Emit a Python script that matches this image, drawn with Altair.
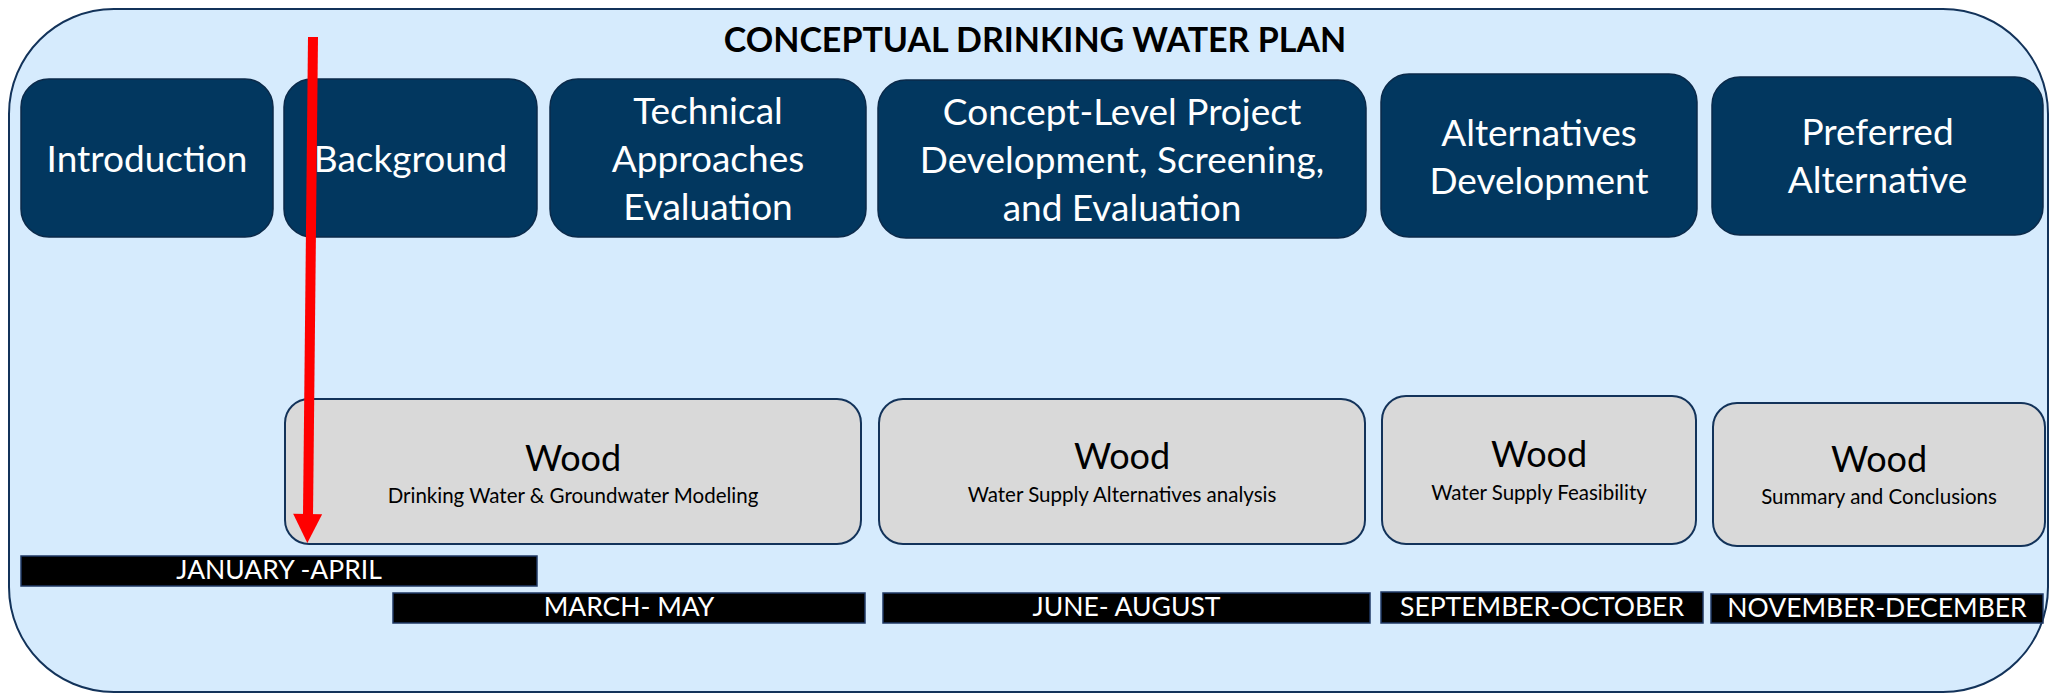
import altair as alt
import pandas as pd

# ---------------- data (diagram layout) ----------------
TITLE = "CONCEPTUAL DRINKING WATER PLAN"
title_x = [1035]
title_y = [42]

frame_x0 = [9]
frame_x1 = [2048]
frame_y0 = [9]
frame_y1 = [692]

phase_labels = [
    "Introduction",
    "Background",
    "Technical\nApproaches\nEvaluation",
    "Concept-Level Project\nDevelopment, Screening,\nand Evaluation",
    "Alternatives\nDevelopment",
    "Preferred\nAlternative",
]
phase_x0 = [21, 284, 550, 878, 1381, 1712]
phase_x1 = [273, 537, 866, 1366, 1697, 2043]
phase_y0 = [79, 79, 79, 80, 74, 77]
phase_y1 = [237, 237, 237, 238, 237, 235]
phase_text_y = [161, 161, 161, 162, 159, 158]   # centre of the text block

task_owner = ["Wood", "Wood", "Wood", "Wood"]
task_desc = [
    "Drinking Water & Groundwater Modeling",
    "Water Supply Alternatives analysis",
    "Water Supply Feasibility",
    "Summary and Conclusions",
]
task_x0 = [285, 879, 1382, 1713]
task_x1 = [861, 1365, 1696, 2045]
task_y0 = [399, 399, 396, 403]
task_y1 = [544, 544, 544, 546]
owner_y = [460, 458, 456, 461]
desc_y = [497, 496, 494, 498]

period_labels = ["JANUARY -APRIL", "MARCH- MAY", "JUNE- AUGUST",
                 "SEPTEMBER-OCTOBER", "NOVEMBER-DECEMBER"]
period_x0 = [21, 393, 883, 1381, 1711]
period_x1 = [537, 865, 1370, 1703, 2043]
period_y0 = [556, 593, 593, 592, 594]
period_y1 = [586, 623, 623, 623, 623]

arrow_x = [313]
arrow_x2 = [308]
arrow_y = [37]
arrow_y2 = [516]
head_x = [307.5]
head_y = [528.5]

# ---------------- styles ----------------
FONT = "Lato"
NAVY = "#02375F"
EDGE = "#13335A"
LIGHT = "#D6EBFD"
GREY = "#D9D9D9"
LINE_H = 48

XS = alt.Scale(domain=[8, 2049], nice=False, zero=False)
YS = alt.Scale(domain=[8, 694], nice=False, zero=False, reverse=True)


def X(f):
    return alt.X(f, type="quantitative", scale=XS, axis=None)


def Y(f):
    return alt.Y(f, type="quantitative", scale=YS, axis=None)


frame_df = pd.DataFrame({"x0": frame_x0, "x1": frame_x1, "y0": frame_y0, "y1": frame_y1})
phase_df = pd.DataFrame({"label": phase_labels, "x0": phase_x0, "x1": phase_x1,
                         "y0": phase_y0, "y1": phase_y1, "ty": phase_text_y})
phase_df["cx"] = (phase_df.x0 + phase_df.x1) / 2
phase_df["nl"] = phase_df.label.str.count("\n") + 1
phase_df["ty1"] = phase_df.ty - (phase_df.nl - 1) * LINE_H / 2
task_df = pd.DataFrame({"owner": task_owner, "desc": task_desc, "x0": task_x0, "x1": task_x1,
                        "y0": task_y0, "y1": task_y1, "oy": owner_y, "dy": desc_y})
task_df["cx"] = (task_df.x0 + task_df.x1) / 2
period_df = pd.DataFrame({"label": period_labels, "x0": period_x0, "x1": period_x1,
                          "y0": period_y0, "y1": period_y1})
period_df["cx"] = (period_df.x0 + period_df.x1) / 2
period_df["cy"] = (period_df.y0 + period_df.y1) / 2
title_df = pd.DataFrame({"t": [TITLE], "x": title_x, "y": title_y})
arrow_df = pd.DataFrame({"x": arrow_x, "x2": arrow_x2, "y": arrow_y, "y2": arrow_y2})
head_df = pd.DataFrame({"x": head_x, "y": head_y})

frame = alt.Chart(frame_df).mark_rect(
    fill=LIGHT, stroke=EDGE, strokeWidth=2, cornerRadius=105
).encode(x=X("x0"), x2=alt.X2("x1"), y=Y("y0"), y2=alt.Y2("y1"))

title = alt.Chart(title_df).mark_text(
    font=FONT, fontSize=34, fontWeight="bold", color="#000000", baseline="middle", align="center"
).encode(x=X("x"), y=Y("y"), text="t:N")

phases = alt.Chart(phase_df).mark_rect(
    fill=NAVY, stroke="#0B2A4A", strokeWidth=1.5, cornerRadius=28
).encode(x=X("x0"), x2=alt.X2("x1"), y=Y("y0"), y2=alt.Y2("y1"))

phase_text = alt.Chart(phase_df).mark_text(
    font=FONT, fontSize=37, color="#FFFFFF", baseline="middle", align="center",
    lineBreak="\n", lineHeight=LINE_H
).encode(x=X("cx"), y=Y("ty1"), text="label:N")

tasks = alt.Chart(task_df).mark_rect(
    fill=GREY, stroke=EDGE, strokeWidth=2, cornerRadius=24
).encode(x=X("x0"), x2=alt.X2("x1"), y=Y("y0"), y2=alt.Y2("y1"))

owner_text = alt.Chart(task_df).mark_text(
    font=FONT, fontSize=36, color="#000000", baseline="middle", align="center"
).encode(x=X("cx"), y=Y("oy"), text="owner:N")

desc_text = alt.Chart(task_df).mark_text(
    font=FONT, fontSize=20.5, color="#000000", baseline="middle", align="center"
).encode(x=X("cx"), y=Y("dy"), text="desc:N")

periods = alt.Chart(period_df).mark_rect(
    fill="#000000", stroke="#1F3864", strokeWidth=1.5
).encode(x=X("x0"), x2=alt.X2("x1"), y=Y("y0"), y2=alt.Y2("y1"))

period_text = alt.Chart(period_df).mark_text(
    font=FONT, fontSize=26.5, color="#FFFFFF", baseline="middle", align="center"
).encode(x=X("cx"), y=Y("cy"), text="label:N")

arrow = alt.Chart(arrow_df).mark_rule(
    color="#FF0000", strokeWidth=10, strokeCap="butt"
).encode(x=X("x"), x2=alt.X2("x2"), y=Y("y"), y2=alt.Y2("y2"))

head = alt.Chart(head_df).mark_point(
    shape="M -1 -1 L 1 -1 L 0 1 Z", size=841, filled=True, fill="#FF0000",
    stroke="#FF0000", strokeWidth=0, opacity=1, angle=0.6
).encode(x=X("x"), y=Y("y"))

chart = alt.layer(
    frame, title, phases, phase_text, tasks, owner_text, desc_text,
    periods, period_text, arrow, head
).properties(
    width=2041, height=686, padding=0,
    autosize=alt.AutoSizeParams(type="none"),
    background="#FFFFFF",
).configure_view(stroke=None)

chart.save("out.html", embed_options={"renderer": "svg", "actions": False})
